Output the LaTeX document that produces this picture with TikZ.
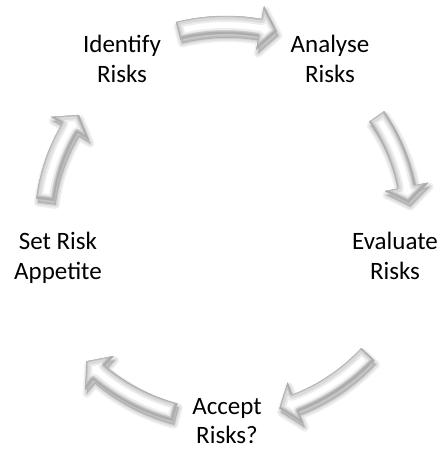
\documentclass[tikz,border=0pt]{standalone}
\usepackage{fontspec}
\setmainfont{Carlito}
\usepackage{tikz}

% curved block arrow on a ring: tail angle, tip angle, radius
\newcommand{\ringarrow}[3]{%
  (#1:#3+9) arc[start angle=#1, end angle=#2+5, radius=#3+9]
  -- (#2+5:#3+22) -- (#2:#3) -- (#2+5:#3-22) -- (#2+5:#3-9)
  arc[start angle=#2+5, end angle=#1, radius=#3-9] -- cycle}

\begin{document}
\begin{tikzpicture}[
    x=1pt, y=1pt,
    every node/.style={
        align=center,
        inner sep=0pt,
        font=\fontsize{25}{29.5}\selectfont
    },
    arrow shadow/.style={black, opacity=0.06, line join=round},
    bevel/.style={line join=round},
    arrow rim/.style={draw=gray!65, line width=0.4pt, line join=round}
]
\useasboundingbox (0,0) rectangle (441,449);

% steps of the cycle
\node (identify) at (122,390) {Identify\\Risks};
\node (analyse)  at (330,390) {Analyse\\Risks};
\node (evaluate) at (395,193) {Evaluate\\Risks};
\node (accept)   at (227,28)  {Accept\\Risks?};
\node (appetite) at (58,191)  {Set Risk\\Appetite};

% arrows round the ring
\begin{scope}[shift={(226,227)}]
\foreach \tail/\tip/\rad in {104/75/197, 35/6/184, -43/-74/194, -105/-135/197, 173/144/182} {
  \begin{scope}[shift={(1.5,-4)}]
    \foreach \w in {8,5,2}
      \filldraw[arrow shadow, line width=\w] \ringarrow{\tail}{\tip}{\rad};
  \end{scope}
  \begin{scope}
    \clip \ringarrow{\tail}{\tip}{\rad};
    \fill[white] \ringarrow{\tail}{\tip}{\rad};
    \draw[bevel, gray!14, line width=12] \ringarrow{\tail}{\tip}{\rad};
    \draw[bevel, gray!28, line width=8] \ringarrow{\tail}{\tip}{\rad};
    % darker lower edge, lit upper edge
    \draw[bevel, gray!45, line width=5, shift={(-0.8,1.2)}] \ringarrow{\tail}{\tip}{\rad};
    \draw[bevel, gray!64, line width=2.5, shift={(-0.8,1.2)}] \ringarrow{\tail}{\tip}{\rad};
  \end{scope}
  \path[arrow rim] \ringarrow{\tail}{\tip}{\rad};
}
\end{scope}
\end{tikzpicture}
\end{document}
